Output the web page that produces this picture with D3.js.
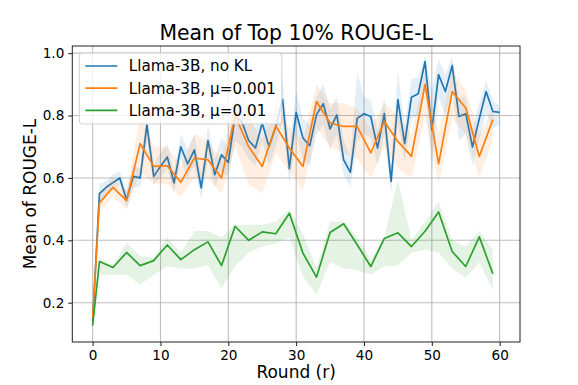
<!DOCTYPE html>
<html>
<head>
<meta charset="utf-8">
<script src="https://cdn.jsdelivr.net/npm/d3@7"></script>
<style>
  body { margin: 0; background: #fff; }
  svg text { font-family: "DejaVu Sans", sans-serif; fill: #000; }
</style>
</head>
<body>
<div id="wrapper"></div>
<script>
// rounds
const blueRounds = d3.range(0, 61)
const sparseRounds = [0, 1, 3, 5, 7, 9, 11, 13, 15, 17, 19, 21, 23, 25, 27, 29, 31, 33, 35, 37, 39, 41, 43, 45, 47, 49, 51, 53, 55, 57, 59]

// Llama-3B, no KL
const blueMean = [0.14, 0.55, 0.57, 0.585, 0.60, 0.53, 0.605, 0.60, 0.77, 0.605, 0.637, 0.667, 0.584, 0.70, 0.645, 0.69, 0.568, 0.72, 0.61, 0.674, 0.65, 0.797, 0.78, 0.72, 0.696, 0.776, 0.70, 0.765, 0.851, 0.63, 0.81, 0.728, 0.703, 0.803, 0.838, 0.757, 0.802, 0.658, 0.618, 0.791, 0.806, 0.797, 0.696, 0.806, 0.589, 0.851, 0.710, 0.859, 0.870, 0.973, 0.754, 0.931, 0.877, 0.960, 0.797, 0.806, 0.699, 0.79, 0.877, 0.813, 0.81]
const blueLow = [0.13, 0.52, 0.55, 0.56, 0.58, 0.50, 0.57, 0.57, 0.72, 0.58, 0.60, 0.63, 0.55, 0.66, 0.60, 0.64, 0.53, 0.66, 0.57, 0.62, 0.60, 0.72, 0.70, 0.66, 0.64, 0.72, 0.64, 0.70, 0.78, 0.58, 0.74, 0.66, 0.64, 0.74, 0.77, 0.69, 0.74, 0.61, 0.57, 0.72, 0.74, 0.73, 0.64, 0.74, 0.55, 0.78, 0.65, 0.79, 0.80, 0.90, 0.62, 0.86, 0.80, 0.89, 0.72, 0.74, 0.64, 0.72, 0.81, 0.76, 0.77]
const blueHigh = [0.15, 0.58, 0.59, 0.61, 0.62, 0.56, 0.64, 0.63, 0.82, 0.64, 0.68, 0.71, 0.62, 0.74, 0.69, 0.74, 0.61, 0.77, 0.66, 0.73, 0.70, 0.88, 0.90, 0.80, 0.76, 0.83, 0.76, 0.82, 0.92, 0.69, 0.88, 0.79, 0.77, 0.86, 0.90, 0.82, 0.86, 0.72, 0.67, 0.94, 0.86, 0.85, 0.75, 0.86, 0.64, 0.94, 0.77, 0.92, 0.92, 0.99, 0.88, 0.98, 0.93, 0.99, 0.86, 0.86, 0.76, 0.84, 0.91, 0.85, 0.83]

// Llama-3B, mu=0.001
const orangeMean = [0.148, 0.52, 0.57, 0.527, 0.71, 0.637, 0.639, 0.586, 0.664, 0.658, 0.60, 0.80, 0.70, 0.637, 0.767, 0.696, 0.637, 0.845, 0.776, 0.765, 0.765, 0.68, 0.781, 0.717, 0.669, 0.899, 0.645, 0.877, 0.824, 0.669, 0.787]
const orangeLow = [0.14, 0.49, 0.54, 0.50, 0.62, 0.58, 0.58, 0.54, 0.60, 0.60, 0.55, 0.70, 0.58, 0.55, 0.68, 0.62, 0.56, 0.76, 0.70, 0.68, 0.66, 0.60, 0.70, 0.63, 0.60, 0.80, 0.58, 0.79, 0.74, 0.60, 0.72]
const orangeHigh = [0.16, 0.55, 0.60, 0.56, 0.80, 0.70, 0.70, 0.64, 0.74, 0.72, 0.66, 0.86, 0.80, 0.72, 0.84, 0.76, 0.72, 0.90, 0.84, 0.84, 0.82, 0.76, 0.84, 0.80, 0.74, 0.94, 0.74, 0.94, 0.88, 0.74, 0.82]

// Llama-3B, mu=0.01
const greenMean = [0.127, 0.332, 0.313, 0.361, 0.319, 0.335, 0.385, 0.338, 0.370, 0.395, 0.319, 0.445, 0.400, 0.427, 0.421, 0.487, 0.359, 0.282, 0.425, 0.453, 0.386, 0.316, 0.406, 0.424, 0.380, 0.429, 0.491, 0.364, 0.316, 0.411, 0.293]
const greenLow = [0.125, 0.29, 0.29, 0.29, 0.258, 0.29, 0.317, 0.31, 0.31, 0.32, 0.247, 0.317, 0.36, 0.38, 0.39, 0.41, 0.284, 0.226, 0.33, 0.31, 0.305, 0.29, 0.317, 0.32, 0.36, 0.37, 0.36, 0.31, 0.28, 0.33, 0.24]
const greenHigh = [0.13, 0.345, 0.32, 0.393, 0.35, 0.345, 0.41, 0.36, 0.43, 0.43, 0.41, 0.45, 0.45, 0.45, 0.46, 0.50, 0.42, 0.31, 0.46, 0.46, 0.41, 0.34, 0.41, 0.594, 0.40, 0.459, 0.525, 0.40, 0.38, 0.43, 0.37]

const xTicks = [0, 10, 20, 30, 40, 50, 60]
const yTicks = [0.2, 0.4, 0.6, 0.8, 1.0]

const series = [
  { name: 'Llama-3B, no KL', color: '#1f77b4', x: blueRounds, mean: blueMean, lo: blueLow, hi: blueHigh },
  { name: 'Llama-3B, μ=0.001', color: '#ff7f0e', x: sparseRounds, mean: orangeMean, lo: orangeLow, hi: orangeHigh },
  { name: 'Llama-3B, μ=0.01', color: '#2ca02c', x: sparseRounds, mean: greenMean, lo: greenLow, hi: greenHigh },
]

/* CHART DIMENSIONS */
const dimensions = {
  width: 578,
  height: 385,
  margin: { top: 46, right: 58, bottom: 43, left: 72.3 },
}
dimensions.boundedWidth = dimensions.width - dimensions.margin.left - dimensions.margin.right
dimensions.boundedHeight = dimensions.height - dimensions.margin.top - dimensions.margin.bottom

/* SCALES */
const xScale = d3.scaleLinear().domain([-3, 63]).range([0, dimensions.boundedWidth])
const yScale = d3.scaleLinear().domain([0.074, 1.023]).range([dimensions.boundedHeight, 0])

const svg = d3.select('#wrapper').append('svg')
  .attr('width', dimensions.width)
  .attr('height', dimensions.height)

const bounds = svg.append('g')
  .attr('transform', `translate(${dimensions.margin.left} ${dimensions.margin.top})`)

/* GRID */
bounds.append('g').selectAll('line').data(xTicks).enter().append('line')
  .attr('x1', d => xScale(d)).attr('x2', d => xScale(d))
  .attr('y1', 0).attr('y2', dimensions.boundedHeight)
  .attr('stroke', '#b0b0b0').attr('stroke-width', 1.1).attr('opacity', 0.8)
bounds.append('g').selectAll('line').data(yTicks).enter().append('line')
  .attr('y1', d => yScale(d)).attr('y2', d => yScale(d))
  .attr('x1', 0).attr('x2', dimensions.boundedWidth)
  .attr('stroke', '#b0b0b0').attr('stroke-width', 1.1).attr('opacity', 0.8)

/* DATA */
const clipId = 'plot-clip'
svg.append('defs').append('clipPath').attr('id', clipId)
  .append('rect').attr('width', dimensions.boundedWidth).attr('height', dimensions.boundedHeight)

const plot = bounds.append('g').attr('clip-path', `url(#${clipId})`)

series.forEach(s => {
  const pts = s.x.map((x, i) => ({ x, m: s.mean[i], lo: s.lo[i], hi: s.hi[i] }))
  const area = d3.area().x(d => xScale(d.x)).y0(d => yScale(d.lo)).y1(d => yScale(d.hi))
  const line = d3.line().x(d => xScale(d.x)).y(d => yScale(d.m))
  plot.append('path').attr('d', area(pts)).attr('fill', s.color).attr('opacity', 0.12)
  plot.append('path').attr('d', line(pts)).attr('fill', 'none')
    .attr('stroke', s.color).attr('stroke-width', 1.7).attr('stroke-linejoin', 'round')
})

/* AXES */
const xAxis = d3.axisBottom(xScale).tickValues(xTicks).tickSize(4).tickPadding(4).tickFormat(d3.format('d'))
const yAxis = d3.axisLeft(yScale).tickValues(yTicks).tickSize(4).tickPadding(4).tickFormat(d3.format('.1f'))

const xAxisG = bounds.append('g').attr('transform', `translate(0 ${dimensions.boundedHeight})`).call(xAxis)
const yAxisG = bounds.append('g').call(yAxis)
;[xAxisG, yAxisG].forEach(g => {
  g.select('.domain').remove()
  g.selectAll('.tick line').attr('stroke', '#000').attr('stroke-width', 0.9)
  g.selectAll('.tick text').attr('font-size', 13.6).attr('font-family', '"DejaVu Sans", sans-serif').attr('fill', '#000')
})

bounds.append('rect')
  .attr('width', dimensions.boundedWidth).attr('height', dimensions.boundedHeight)
  .attr('fill', 'none').attr('stroke', '#222').attr('stroke-width', 1)

/* LABELS */
svg.append('text')
  .attr('x', dimensions.margin.left + dimensions.boundedWidth / 2)
  .attr('y', 40)
  .attr('text-anchor', 'middle')
  .attr('font-size', 20.4)
  .text('Mean of Top 10% ROUGE-L')

svg.append('text')
  .attr('x', dimensions.margin.left + dimensions.boundedWidth / 2)
  .attr('y', 378)
  .attr('text-anchor', 'middle')
  .attr('font-size', 17)
  .text('Round (r)')

svg.append('text')
  .attr('transform', `translate(36 ${dimensions.margin.top + dimensions.boundedHeight / 2}) rotate(-90)`)
  .attr('text-anchor', 'middle')
  .attr('font-size', 17)
  .text('Mean of ROUGE-L')

/* LEGEND */
const legend = bounds.append('g').attr('transform', 'translate(7 7)')
legend.append('rect')
  .attr('width', 202.5).attr('height', 71).attr('rx', 3)
  .attr('fill', '#fff').attr('fill-opacity', 0.8)
  .attr('stroke', '#d0d0d0').attr('stroke-width', 1)

const legendItems = legend.selectAll('g.item').data(series).enter().append('g')
  .attr('transform', (d, i) => `translate(0 ${13 + i * 22.2})`)
legendItems.append('line')
  .attr('x1', 6).attr('x2', 38)
  .attr('stroke', d => d.color).attr('stroke-width', 1.7)
legendItems.append('text')
  .attr('x', 49.5).attr('dy', '0.36em')
  .attr('font-size', 15.2)
  .text(d => d.name)
</script>
</body>
</html>
